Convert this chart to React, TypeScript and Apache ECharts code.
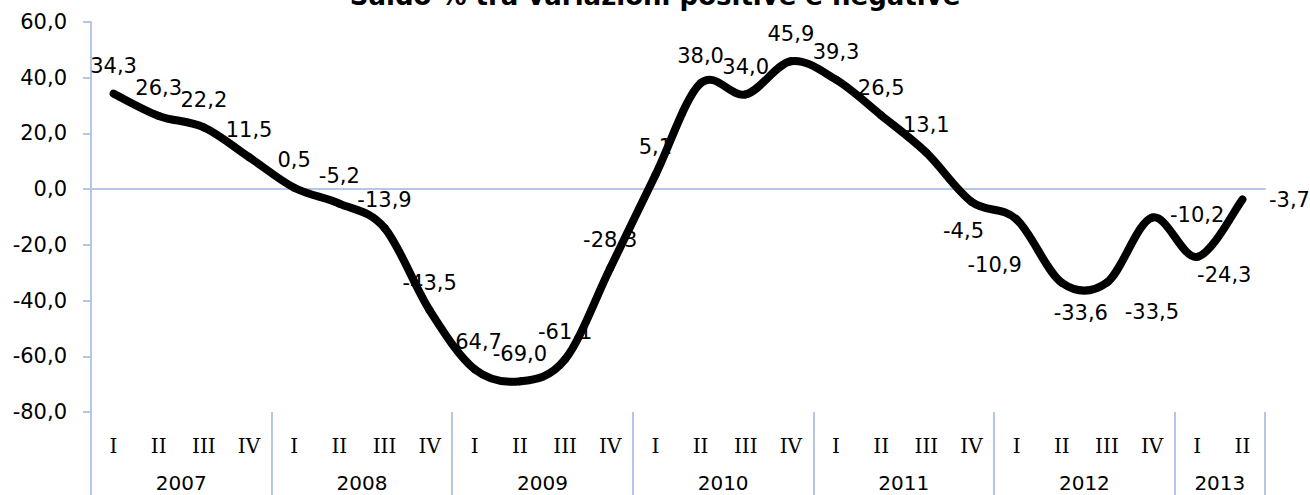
import React, { useEffect, useRef } from "react";
import * as echarts from "echarts";

const quarters = ["I","II","III","IV","I","II","III","IV","I","II","III","IV","I","II","III","IV","I","II","III","IV","I","II","III","IV","I","II"];
const years = ["2007","2007","2007","2007","2008","2008","2008","2008","2009","2009","2009","2009","2010","2010","2010","2010","2011","2011","2011","2011","2012","2012","2012","2012","2013","2013"];
const values = [34.3, 26.3, 22.2, 11.5, 0.5, -5.2, -13.9, -43.5, -64.7, -69.0, -61.1, -28.3, 5.1, 38.0, 34.0, 45.9, 39.3, 26.5, 13.1, -4.5, -10.9, -33.6, -33.5, -10.2, -24.3, -3.7];
const yMin = -80;
const yMax = 60;
const yStep = 20;
const titleText = "Saldo % tra variazioni positive e negative";

// label placement tweaks (style only)
const labelShift: Record<number, number[]> = {
  19: [-8, 57],
  20: [-22, 73],
  21: [19, 58],
  22: [45, 57],
  23: [45, 25],
  24: [27, 46],
  25: [47, 28],
};

const fmt = (v: number) => v.toFixed(1).replace(".", ",");
const BLUE = "#b4c7e7";

export default function App() {
  const ref = useRef<HTMLDivElement>(null);
  useEffect(() => {
    if (!ref.current) return;
    const chart = echarts.init(ref.current, undefined, { renderer: "svg" });

    // year group midpoints (in category units)
    const mids: Record<number, string> = {};
    let start = 0;
    for (let i = 1; i <= years.length; i++) {
      if (i === years.length || years[i] !== years[i - 1]) {
        mids[(start + i) / 2] = years[start];
        start = i;
      }
    }

    const labelData = values.map((v, i) => {
      const s = labelShift[i];
      return s ? { value: v, label: { offset: s } } : { value: v };
    });

    const n = values.length;
    // Smoothed line (Catmull-Rom style, like spreadsheet smoothing) drawn through axis coords
    const renderCurve = (params: any, api: any) => {
      const i = params.dataIndex;
      if (i >= n - 1) return null;
      const i0 = Math.max(0, i - 1);
      const i3 = Math.min(n - 1, i + 2);
      const p0 = api.coord([i0, values[i0]]);
      const p1 = api.coord([i, values[i]]);
      const p2 = api.coord([i + 1, values[i + 1]]);
      const p3 = api.coord([i3, values[i3]]);
      const k = 1 / 6;
      return {
        type: "bezierCurve",
        shape: {
          x1: p1[0],
          y1: p1[1],
          cpx1: p1[0] + (p2[0] - p0[0]) * k,
          cpy1: p1[1] + (p2[1] - p0[1]) * k,
          cpx2: p2[0] - (p3[0] - p1[0]) * k,
          cpy2: p2[1] - (p3[1] - p1[1]) * k,
          x2: p2[0],
          y2: p2[1],
        },
        style: { stroke: "#000", lineWidth: 8, lineCap: "round", fill: null },
      };
    };

    chart.setOption({
      animation: false,
      title: {
        text: titleText,
        left: "center",
        top: -17,
        padding: 0,
        textStyle: { fontFamily: "DejaVu Sans", fontWeight: "bold", fontSize: 26, color: "#000" },
      },
      grid: { left: 91, right: 45, top: 22, bottom: 83, containLabel: false },
      xAxis: [
        {
          type: "category",
          data: quarters,
          position: "bottom",
          boundaryGap: true,
          axisLine: { show: false, onZero: false },
          axisTick: {
            show: true,
            length: 83,
            interval: (i: number) => i === 0 || years[i] !== years[i - 1],
            lineStyle: { color: BLUE, width: 2 },
          },
          axisLabel: {
            interval: 0,
            margin: 24,
            fontFamily: "DejaVu Serif",
            fontSize: 20,
            color: "#000",
          },
          splitLine: { show: false },
        },
        {
          type: "value",
          min: 0,
          max: years.length,
          interval: 1,
          position: "bottom",
          axisLine: { show: false, onZero: false },
          axisTick: { show: false },
          splitLine: { show: false },
          axisLabel: {
            margin: 61,
            fontFamily: "DejaVu Sans",
            fontSize: 20,
            color: "#000",
            formatter: (v: number) => mids[v] || "",
          },
        },
        {
          type: "value",
          min: 0,
          max: years.length,
          axisLine: { show: true, onZero: true, onZeroAxisIndex: 0, lineStyle: { color: BLUE, width: 2 } },
          axisTick: { show: false },
          axisLabel: { show: false },
          splitLine: { show: false },
        },
      ],
      yAxis: {
        type: "value",
        min: yMin,
        max: yMax,
        interval: yStep,
        axisLine: { show: true, lineStyle: { color: BLUE, width: 2 } },
        axisTick: { show: true, length: 8, lineStyle: { color: BLUE, width: 2 } },
        splitLine: { show: false },
        axisLabel: {
          margin: 24,
          fontFamily: "DejaVu Sans",
          fontSize: 21,
          color: "#000",
          formatter: (v: number) => fmt(v),
        },
      },
      series: [
        {
          type: "line",
          xAxisIndex: 0,
          data: labelData,
          symbol: "circle",
          symbolSize: 2,
          itemStyle: { color: "rgba(0,0,0,0)" },
          lineStyle: { width: 0, color: "rgba(0,0,0,0)" },
          z: 1,
          label: {
            show: true,
            position: "top",
            distance: 16,
            fontFamily: "DejaVu Sans",
            fontSize: 21,
            color: "#000",
            formatter: (p: any) => fmt(p.value),
          },
        },
        {
          type: "custom",
          xAxisIndex: 0,
          data: values.map((v, i) => [i, v]),
          encode: { x: 0, y: 1 },
          renderItem: renderCurve,
          z: 3,
          silent: true,
        },
      ],
    });
    return () => chart.dispose();
  }, []);
  return (
    <div
      ref={ref}
      style={{ position: "fixed", left: 0, top: 0, width: 1310, height: 495, background: "#fff" }}
    />
  );
}
